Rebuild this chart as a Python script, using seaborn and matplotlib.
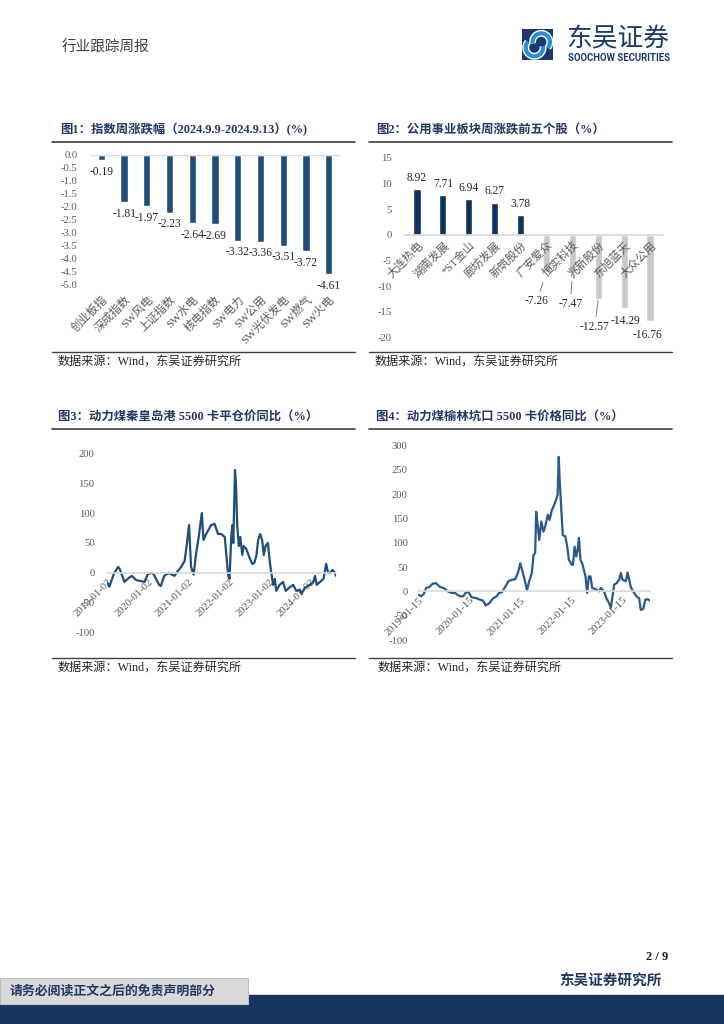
import numpy as np
import pandas as pd
import matplotlib
matplotlib.use('Agg')
import matplotlib.pyplot as plt
from matplotlib.lines import Line2D
from matplotlib.patches import Rectangle, Arc
import seaborn as sns

# ---- data ----
idx_names = ['创业板指', '深成指数', 'SW风电', '上证指数', 'SW水电', '核电指数',
             'SW电力', 'SW公用', 'SW光伏发电', 'SW燃气', 'SW火电']
idx_chg = [-0.19, -1.81, -1.97, -2.23, -2.64, -2.69, -3.32, -3.36, -3.51, -3.72, -4.61]

stock_names = ['大连热电', '湖南发展', '*ST金山', '廊坊发展', '新筑股份',
               '广安爱众', '恒实科技', '兆新股份', '东旭蓝天', '大众公用']
stock_chg = [8.92, 7.71, 6.94, 6.27, 3.78, -7.26, -7.47, -12.57, -14.29, -16.76]

# 秦皇岛港 5500 平仓价同比 (%)
qhd_dates = ['2019-01-02', '2019-01-17', '2019-03-02', '2019-04-07', '2019-04-22', '2019-06-01',
             '2019-07-15', '2019-08-08', '2019-09-15', '2019-11-30', '2019-12-30', '2020-01-30',
             '2020-02-20', '2020-04-10', '2020-04-25', '2020-05-26', '2020-07-05', '2020-08-05',
             '2020-08-26', '2020-09-26', '2020-10-26', '2020-11-26', '2020-12-17', '2021-01-05',
             '2021-01-23', '2021-02-15', '2021-03-08', '2021-04-02', '2021-04-30', '2021-05-15',
             '2021-06-08', '2021-07-23', '2021-08-23', '2021-09-23', '2021-10-23', '2021-11-23',
             '2021-12-12', '2021-12-24', '2022-01-05', '2022-01-20', '2022-01-30', '2022-02-08',
             '2022-02-23', '2022-03-05', '2022-03-15', '2022-03-30', '2022-04-12', '2022-04-30',
             '2022-05-12', '2022-06-05', '2022-07-05', '2022-07-30', '2022-08-17', '2022-09-05',
             '2022-09-20', '2022-10-08', '2022-10-26', '2022-11-10', '2022-11-26', '2022-12-17',
             '2023-01-02', '2023-01-17', '2023-02-02', '2023-02-17', '2023-03-02', '2023-04-02',
             '2023-05-02', '2023-05-26', '2023-06-26', '2023-08-02', '2023-08-30', '2023-09-30',
             '2023-10-15', '2023-11-15', '2023-12-30', '2024-01-30', '2024-02-15', '2024-03-01',
             '2024-04-01', '2024-05-01', '2024-05-12', '2024-05-25', '2024-06-12', '2024-06-28',
             '2024-07-22', '2024-08-12', '2024-08-22']
qhd_yoy = [-17, -23, 0, 10, 6, -15,
           -8, -5, -12, -15, -2, 0,
           -2, -20, -22, -5, 0, -3,
           -5, 3, 10, 20, 50, 80,
           10, -3, 30, 60, 100, 55,
           65, 80, 82, 65, 65, 60,
           20, -5, -10, 60, 80, 50,
           172, 145, 80, 45, 60, 30,
           45, 40, 25, 15, 17, 30,
           55, 65, 55, 30, 45, 50,
           20, 0, -20, -10, -30, -20,
           -15, -30, -25, -20, -30, -28,
           -35, -25, -20, -15, -5, -20,
           -15, -10, 0, 15, 0, 0,
           5, 0, -5]
qhd_ticks = ['2019-01-02', '2020-01-02', '2021-01-02', '2022-01-02', '2023-01-02', '2024-01-02']

# 榆林坑口 5500 价格同比 (%)
yl_dates = ['2019-01-15', '2019-02-01', '2019-02-20', '2019-03-08', '2019-03-31', '2019-04-25',
            '2019-05-18', '2019-06-12', '2019-07-18', '2019-08-12', '2019-09-05', '2019-09-30',
            '2019-11-05', '2019-11-29', '2019-12-22', '2020-01-08', '2020-01-28', '2020-03-04',
            '2020-03-28', '2020-04-21', '2020-05-08', '2020-06-01', '2020-07-02', '2020-07-26',
            '2020-08-13', '2020-09-01', '2020-09-25', '2020-10-19', '2020-11-12', '2020-12-06',
            '2020-12-26', '2021-01-12', '2021-01-24', '2021-02-13', '2021-03-01', '2021-03-17',
            '2021-04-05', '2021-04-17', '2021-04-29', '2021-05-06', '2021-05-18', '2021-05-28',
            '2021-06-12', '2021-06-28', '2021-07-10', '2021-07-29', '2021-08-10', '2021-08-27',
            '2021-09-08', '2021-09-25', '2021-10-07', '2021-10-15', '2021-10-22', '2021-11-01',
            '2021-11-13', '2021-12-02', '2021-12-15', '2021-12-27', '2022-01-16', '2022-01-25',
            '2022-02-06', '2022-02-18', '2022-02-28', '2022-03-09', '2022-03-20', '2022-04-01',
            '2022-04-13', '2022-04-25', '2022-05-07', '2022-05-19', '2022-05-31', '2022-06-12',
            '2022-07-06', '2022-07-30', '2022-08-14', '2022-09-05', '2022-09-22', '2022-10-11',
            '2022-10-24', '2022-11-05', '2022-11-17', '2022-12-04', '2022-12-23', '2023-01-04',
            '2023-01-16', '2023-02-09', '2023-02-21', '2023-03-05', '2023-03-16', '2023-04-09',
            '2023-04-26', '2023-05-15', '2023-05-27', '2023-06-14', '2023-06-28', '2023-07-15',
            '2023-08-01']
yl_yoy = [-7, -10, -5, 7, 9, 16,
          17, 10, 6, 0, -3, -3,
          -10, -10, -1, -2, -12, -14,
          -17, -19, -29, -25, -14, -10,
          -3, -2, 9, 21, 24, 25,
          38, 58, 45, 24, 2, 21,
          38, 75, 79, 164, 134, 106,
          144, 123, 134, 158, 147, 168,
          175, 188, 199, 277, 229, 175,
          116, 113, 92, 65, 55, 55,
          92, 72, 86, 110, 65, 58,
          45, 31, -3, 31, 31, 7,
          5, 0, 7, 0, -14, -24,
          -34, -10, 14, 17, 24, 38,
          24, 21, 39, 24, 9, -3,
          -10, -14, -38, -36, -17, -16,
          -19]
yl_ticks = ['2019-01-15', '2020-01-15', '2021-01-15', '2022-01-15', '2023-01-15']

# ---- style ----
sns.set_theme(style='white')
plt.rcParams['font.family'] = ['Liberation Serif', 'Noto Sans CJK SC']
plt.rcParams['axes.unicode_minus'] = False

NAVY = '#1f3864'
BAR1 = '#1f4e79'
BAR2 = '#0b3461'
GREY_BAR = '#c9c9c9'
TICK = '#595959'
ZERO = '#d9d9d9'

W, H = 724, 1024
fig = plt.figure(figsize=(7.24, 10.24), dpi=100)


def fx(px):
    return px / W


def fy(py):
    return 1 - py / H


def box(x0, y0, x1, y1):
    return [fx(x0), fy(y1), (x1 - x0) / W, (y1 - y0) / H]


def hline(x0, x1, y, lw=1.2, color='#404040'):
    fig.add_artist(Line2D([fx(x0), fx(x1)], [fy(y), fy(y)], transform=fig.transFigure,
                          color=color, lw=lw))


def clean(ax):
    for s in ax.spines.values():
        s.set_visible(False)
    ax.set_xlabel('')
    ax.set_ylabel('')
    ax.tick_params(length=0, colors=TICK)


# ---- header ----
fig.text(fx(62), fy(48), '行业跟踪周报', fontsize=10.5, color='#404040', va='center')
lg = fig.add_axes(box(522, 29, 553, 60))
lg.set_xlim(0, 1)
lg.set_ylim(0, 1)
lg.axis('off')
lg.add_patch(Rectangle((0, 0), 1, 1, color='#1b3a6b'))
lg.add_patch(Arc((0.62, 0.58), 0.56, 0.56, theta1=-40, theta2=190, lw=5, color='white'))
lg.add_patch(Arc((0.62, 0.58), 0.56, 0.56, theta1=-40, theta2=190, lw=3, color='#2a8fd8'))
lg.add_patch(Arc((0.40, 0.40), 0.56, 0.56, theta1=140, theta2=370, lw=5, color='white'))
lg.add_patch(Arc((0.40, 0.40), 0.56, 0.56, theta1=140, theta2=370, lw=3, color='#2a8fd8'))
fig.text(fx(566), fy(39), '东吴证券', fontsize=18.5, color='#1b3a6b', va='center',
         family=['Noto Sans CJK SC'])
fig.text(fx(568), fy(58), 'SOOCHOW SECURITIES', fontsize=6.9, color='#1b3a6b', va='center',
         family=['Roboto'], weight='bold')

# ---- titles, rules, sources ----
titles = [(60, 130, '图1：指数周涨跌幅（2024.9.9-2024.9.13）(%)'),
          (376, 130, '图2：公用事业板块周涨跌前五个股（%）'),
          (58, 417, '图3：动力煤秦皇岛港 5500 卡平仓价同比（%）'),
          (376, 417, '图4：动力煤榆林坑口 5500 卡价格同比（%）')]
for x, y, t in titles:
    fig.text(fx(x), fy(y), t, fontsize=8.9, weight='bold', color=NAVY, va='center')

for y in (141.7, 429):
    hline(52, 355, y)
    hline(369, 672, y)
for y in (351.7, 658):
    hline(52, 355, y, lw=1.0)
    hline(369, 672, y, lw=1.0)
for x, y in [(58, 362), (375, 362), (58, 668), (378, 668)]:
    fig.text(fx(x), fy(y), '数据来源：Wind，东吴证券研究所', fontsize=8.7, color='#262626', va='center')

# ---- chart 1 ----
ax1 = fig.add_axes(box(90, 155, 340, 284))
sns.barplot(x=idx_names, y=idx_chg, color=BAR1, width=0.32, ax=ax1, saturation=1)
clean(ax1)
ax1.set_ylim(-5, 0)
ax1.set_xlim(-0.5, len(idx_names) - 0.5)
yt = np.arange(-5, 0.01, 0.5)
ax1.set_yticks(yt)
ax1.set_yticklabels([f'{v:.1f}' for v in yt], fontsize=7.7)
ax1.tick_params(axis='y', pad=9)
ax1.set_xticks(range(len(idx_names)))
ax1.set_xticklabels(idx_names, rotation=45, ha='right', rotation_mode='anchor', fontsize=8.2)
ax1.tick_params(axis='x', pad=7)
ax1.axhline(0, color=ZERO, lw=1)
for i, v in enumerate(idx_chg):
    ax1.annotate(f'{v:.2f}', (i, v), xytext=(0, -8.5), textcoords='offset points',
                 ha='center', va='center', fontsize=8.3, color='#262626', annotation_clip=False)

# ---- chart 2 ----
ax2 = fig.add_axes(box(404, 157.7, 663, 337.7))
cols2 = [BAR2 if v > 0 else GREY_BAR for v in stock_chg]
sns.barplot(x=stock_names, y=stock_chg, hue=stock_names, palette=cols2, legend=False,
            width=0.28, ax=ax2, saturation=1)
clean(ax2)
ax2.set_axisbelow(False)
ax2.set_ylim(-20, 15)
ax2.set_xlim(-0.5, len(stock_names) - 0.5)
ax2.set_yticks(range(-20, 16, 5))
ax2.set_yticklabels([str(v) for v in range(-20, 16, 5)], fontsize=7.7)
ax2.tick_params(axis='y', pad=9)
ax2.spines['bottom'].set_visible(True)
ax2.spines['bottom'].set_position(('data', 0))
ax2.spines['bottom'].set_color(ZERO)
ax2.set_xticks(range(len(stock_names)))
ax2.set_xticklabels(stock_names, rotation=45, ha='right', rotation_mode='anchor', fontsize=8.2)
ax2.tick_params(axis='x', pad=3)
# label offsets (points); leader gap to the bar end in points (None = no leader)
lab_off = [(0, 8), (0, 8), (0, 8), (0, 8), (0, 8),
           (-7, -21), (-1.5, -22), (-2.6, -19.5), (1, -9.4), (-2, -9.8)]
leader_gap = [None] * 5 + [8, 6, 0.5, None, None]
for i, v in enumerate(stock_chg):
    kw = {}
    if leader_gap[i] is not None:
        kw['arrowprops'] = dict(arrowstyle='-', color='#7f7f7f', lw=0.7, shrinkA=0.5,
                                shrinkB=leader_gap[i])
    ax2.annotate(f'{v:.2f}', (i, v), xytext=lab_off[i], textcoords='offset points',
                 ha='center', va='center', fontsize=8.3, color='#262626',
                 annotation_clip=False, **kw)


# ---- charts 3 and 4 ----
def line_panel(rect, dates, vals, ticks, ylim, step, color, ypad):
    ax = fig.add_axes(rect)
    d = pd.to_datetime(dates)
    sns.lineplot(x=d, y=vals, color=color, lw=1.6, ax=ax)
    clean(ax)
    ax.set_xlim(d.min() - pd.Timedelta(days=6), d.max())
    ax.set_ylim(*ylim)
    yv = list(range(ylim[0], ylim[1] + 1, step))
    ax.set_yticks(yv)
    ax.set_yticklabels([str(v) for v in yv], fontsize=7.7)
    ax.tick_params(axis='y', pad=ypad)
    ax.spines['bottom'].set_visible(True)
    ax.spines['bottom'].set_position(('data', 0))
    ax.spines['bottom'].set_color(ZERO)
    ax.set_xticks(pd.to_datetime(ticks))
    ax.set_xticklabels(ticks, rotation=45, ha='right', rotation_mode='anchor', fontsize=7.7)
    ax.tick_params(axis='x', pad=3)
    return ax


line_panel(box(107, 453.3, 336, 632.7), qhd_dates, qhd_yoy, qhd_ticks, (-100, 200), 50,
           '#1f4e79', 9)
line_panel(box(418, 445.7, 650, 640), yl_dates, yl_yoy, yl_ticks, (-100, 300), 50,
           '#2a5a8a', 7.5)

# ---- footer ----
fig.text(fx(668), fy(957), '2 / 9', fontsize=9, weight='bold', ha='right', va='center',
         color='#1a1a1a')
fig.text(fx(662), fy(982), '东吴证券研究所', fontsize=10.5, weight='bold', ha='right', va='center',
         color=NAVY)
fig.add_artist(Rectangle((0, 0), 1, 29 / H, transform=fig.transFigure, color='#17375e', zorder=1))
fig.add_artist(Rectangle((0, fy(1004)), 248 / W, 26 / H, transform=fig.transFigure,
                         facecolor='#d9d9d9', edgecolor='#bfbfbf', lw=0.8, zorder=2))
fig.text(fx(10), fy(991), '请务必阅读正文之后的免责声明部分', fontsize=9.3, weight='bold',
         va='center', color=NAVY, zorder=3)

fig.savefig('out.png', dpi=100)
